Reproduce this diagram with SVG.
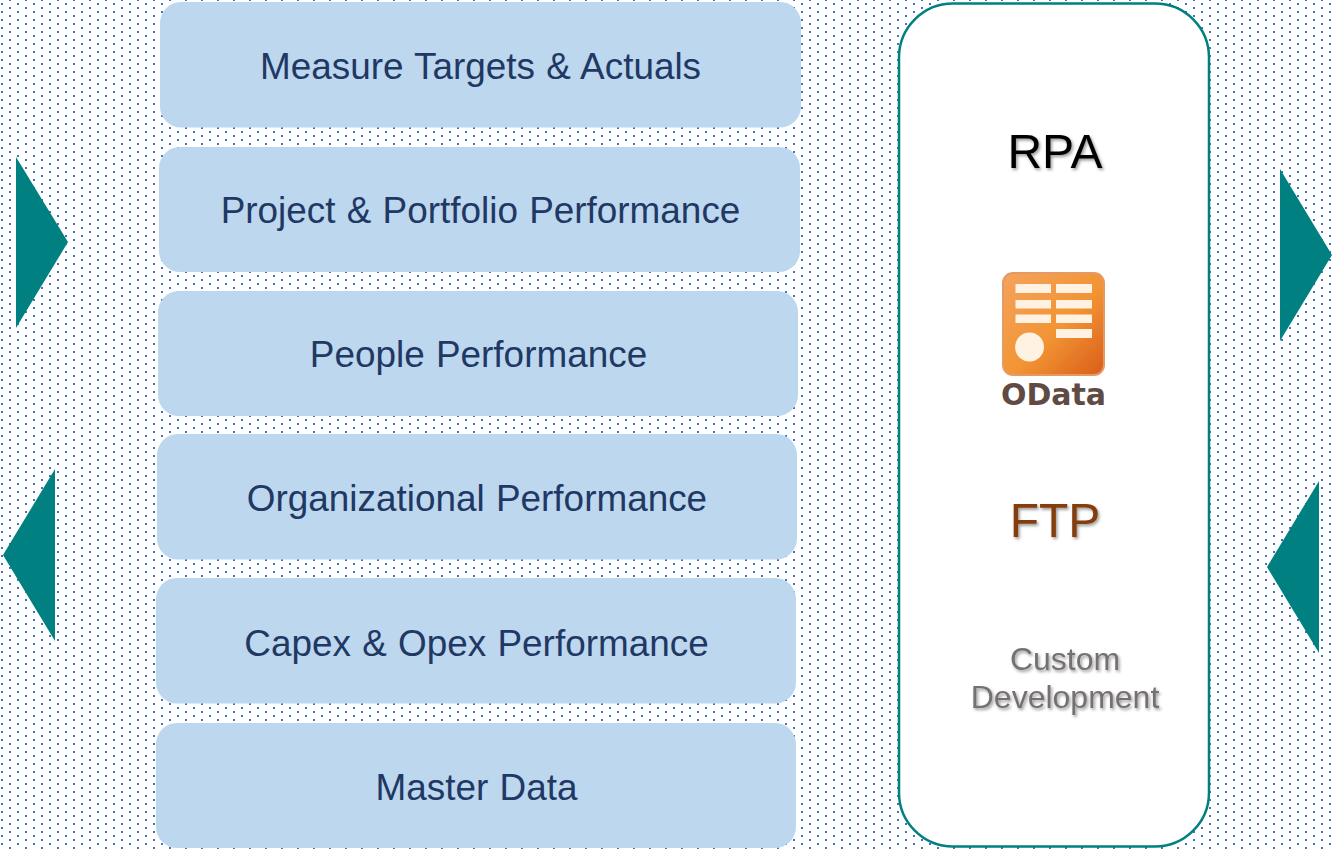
<svg xmlns="http://www.w3.org/2000/svg" width="1333" height="849" viewBox="0 0 1333 849">
<style>
.b{fill:#BDD7EE}
.t{font-family:"Liberation Sans",Arial,sans-serif;font-size:36.9px;word-spacing:1px;fill:#1F3864;text-anchor:middle}
.tri{fill:#008080}
.s{font-family:"Liberation Sans",Arial,sans-serif;text-anchor:middle;filter:url(#sh)}
.r{fill:#FFF2E2}
</style>
<defs>
<pattern id="dots" width="16" height="8" patternUnits="userSpaceOnUse">
<rect x="1" y="3" width="2" height="2" fill="#4472C4"/>
<rect x="9" y="7" width="2" height="2" fill="#4472C4"/>
<rect x="9" y="-1" width="2" height="2" fill="#4472C4"/>
</pattern>
<filter id="sh" x="-10%" y="-10%" width="120%" height="130%">
<feDropShadow dx="1.500" dy="2" stdDeviation="1.500" flood-color="#000" flood-opacity="0.4"/>
</filter>
<linearGradient id="og" x1="0" y1="0" x2="1" y2="1">
<stop offset="0" stop-color="#F4A35E"/>
<stop offset="0.55" stop-color="#F29433"/>
<stop offset="1" stop-color="#D95D1A"/>
</linearGradient>
</defs>
<rect width="1333" height="849" fill="#fff"/>
<rect width="1333" height="849" fill="url(#dots)"/>
<g id="node-measure"><rect class="b" x="160" y="2" width="641" height="125.500" rx="21"/><text class="t" x="480.500" y="79">Measure Targets &amp; Actuals</text></g>
<g id="node-project"><rect class="b" x="159" y="147" width="641" height="125" rx="21"/><text class="t" x="480.500" y="223">Project &amp; Portfolio Performance</text></g>
<g id="node-people"><rect class="b" x="158" y="291" width="640" height="125" rx="21"/><text class="t" x="478.500" y="367">People Performance</text></g>
<g id="node-org"><rect class="b" x="157" y="434" width="640" height="125.500" rx="21"/><text class="t" x="477" y="511">Organizational Performance</text></g>
<g id="node-capex"><rect class="b" x="156" y="578" width="640" height="125.500" rx="21"/><text class="t" x="476.500" y="656">Capex &amp; Opex Performance</text></g>
<g id="node-master"><rect class="b" x="156" y="723" width="640" height="125" rx="21"/><text class="t" x="476.500" y="800">Master Data</text></g>
<g id="connectors">
<polygon class="tri" points="16,157 68,242 16,328"/>
<polygon class="tri" points="55,469 3,555 55,641"/>
<polygon class="tri" points="1280,169 1332,255 1280,341"/>
<polygon class="tri" points="1319,481 1267,567 1319,653"/>
</g>
<g id="node-panel"><rect x="899" y="3.500" width="310" height="843" rx="54" fill="#fff" stroke="#008080" stroke-width="2.500"/></g>
<g id="node-rpa"><text class="s" x="1055" y="168" font-size="48" fill="#000">RPA</text></g>
<g id="node-odata">
<rect x="1003" y="273" width="101" height="102" rx="10" fill="url(#og)" stroke="#E49A63" stroke-width="2"/>
<rect class="r" x="1015.500" y="284" width="35.500" height="9"/><rect class="r" x="1056" y="284" width="36" height="9"/>
<rect class="r" x="1015.500" y="300" width="35.500" height="8.500"/><rect class="r" x="1056" y="300" width="36" height="8.500"/>
<rect class="r" x="1015.500" y="314.500" width="35.500" height="8.500"/><rect class="r" x="1056" y="314.500" width="36" height="8.500"/>
<rect class="r" x="1056" y="329" width="36" height="9"/>
<circle class="r" cx="1029.500" cy="347" r="14.500"/>
<text x="1053.500" y="405" font-family="'DejaVu Sans',sans-serif" font-weight="700" font-size="30" fill="#5F4B44" text-anchor="middle">OData</text>
</g>
<g id="node-ftp"><text class="s" x="1055" y="537" font-size="48" fill="#843C0C">FTP</text></g>
<g id="node-custom"><text class="s" font-size="32" fill="#767171"><tspan x="1065" y="670">Custom</tspan><tspan x="1065" y="708">Development</tspan></text></g>
</svg>
